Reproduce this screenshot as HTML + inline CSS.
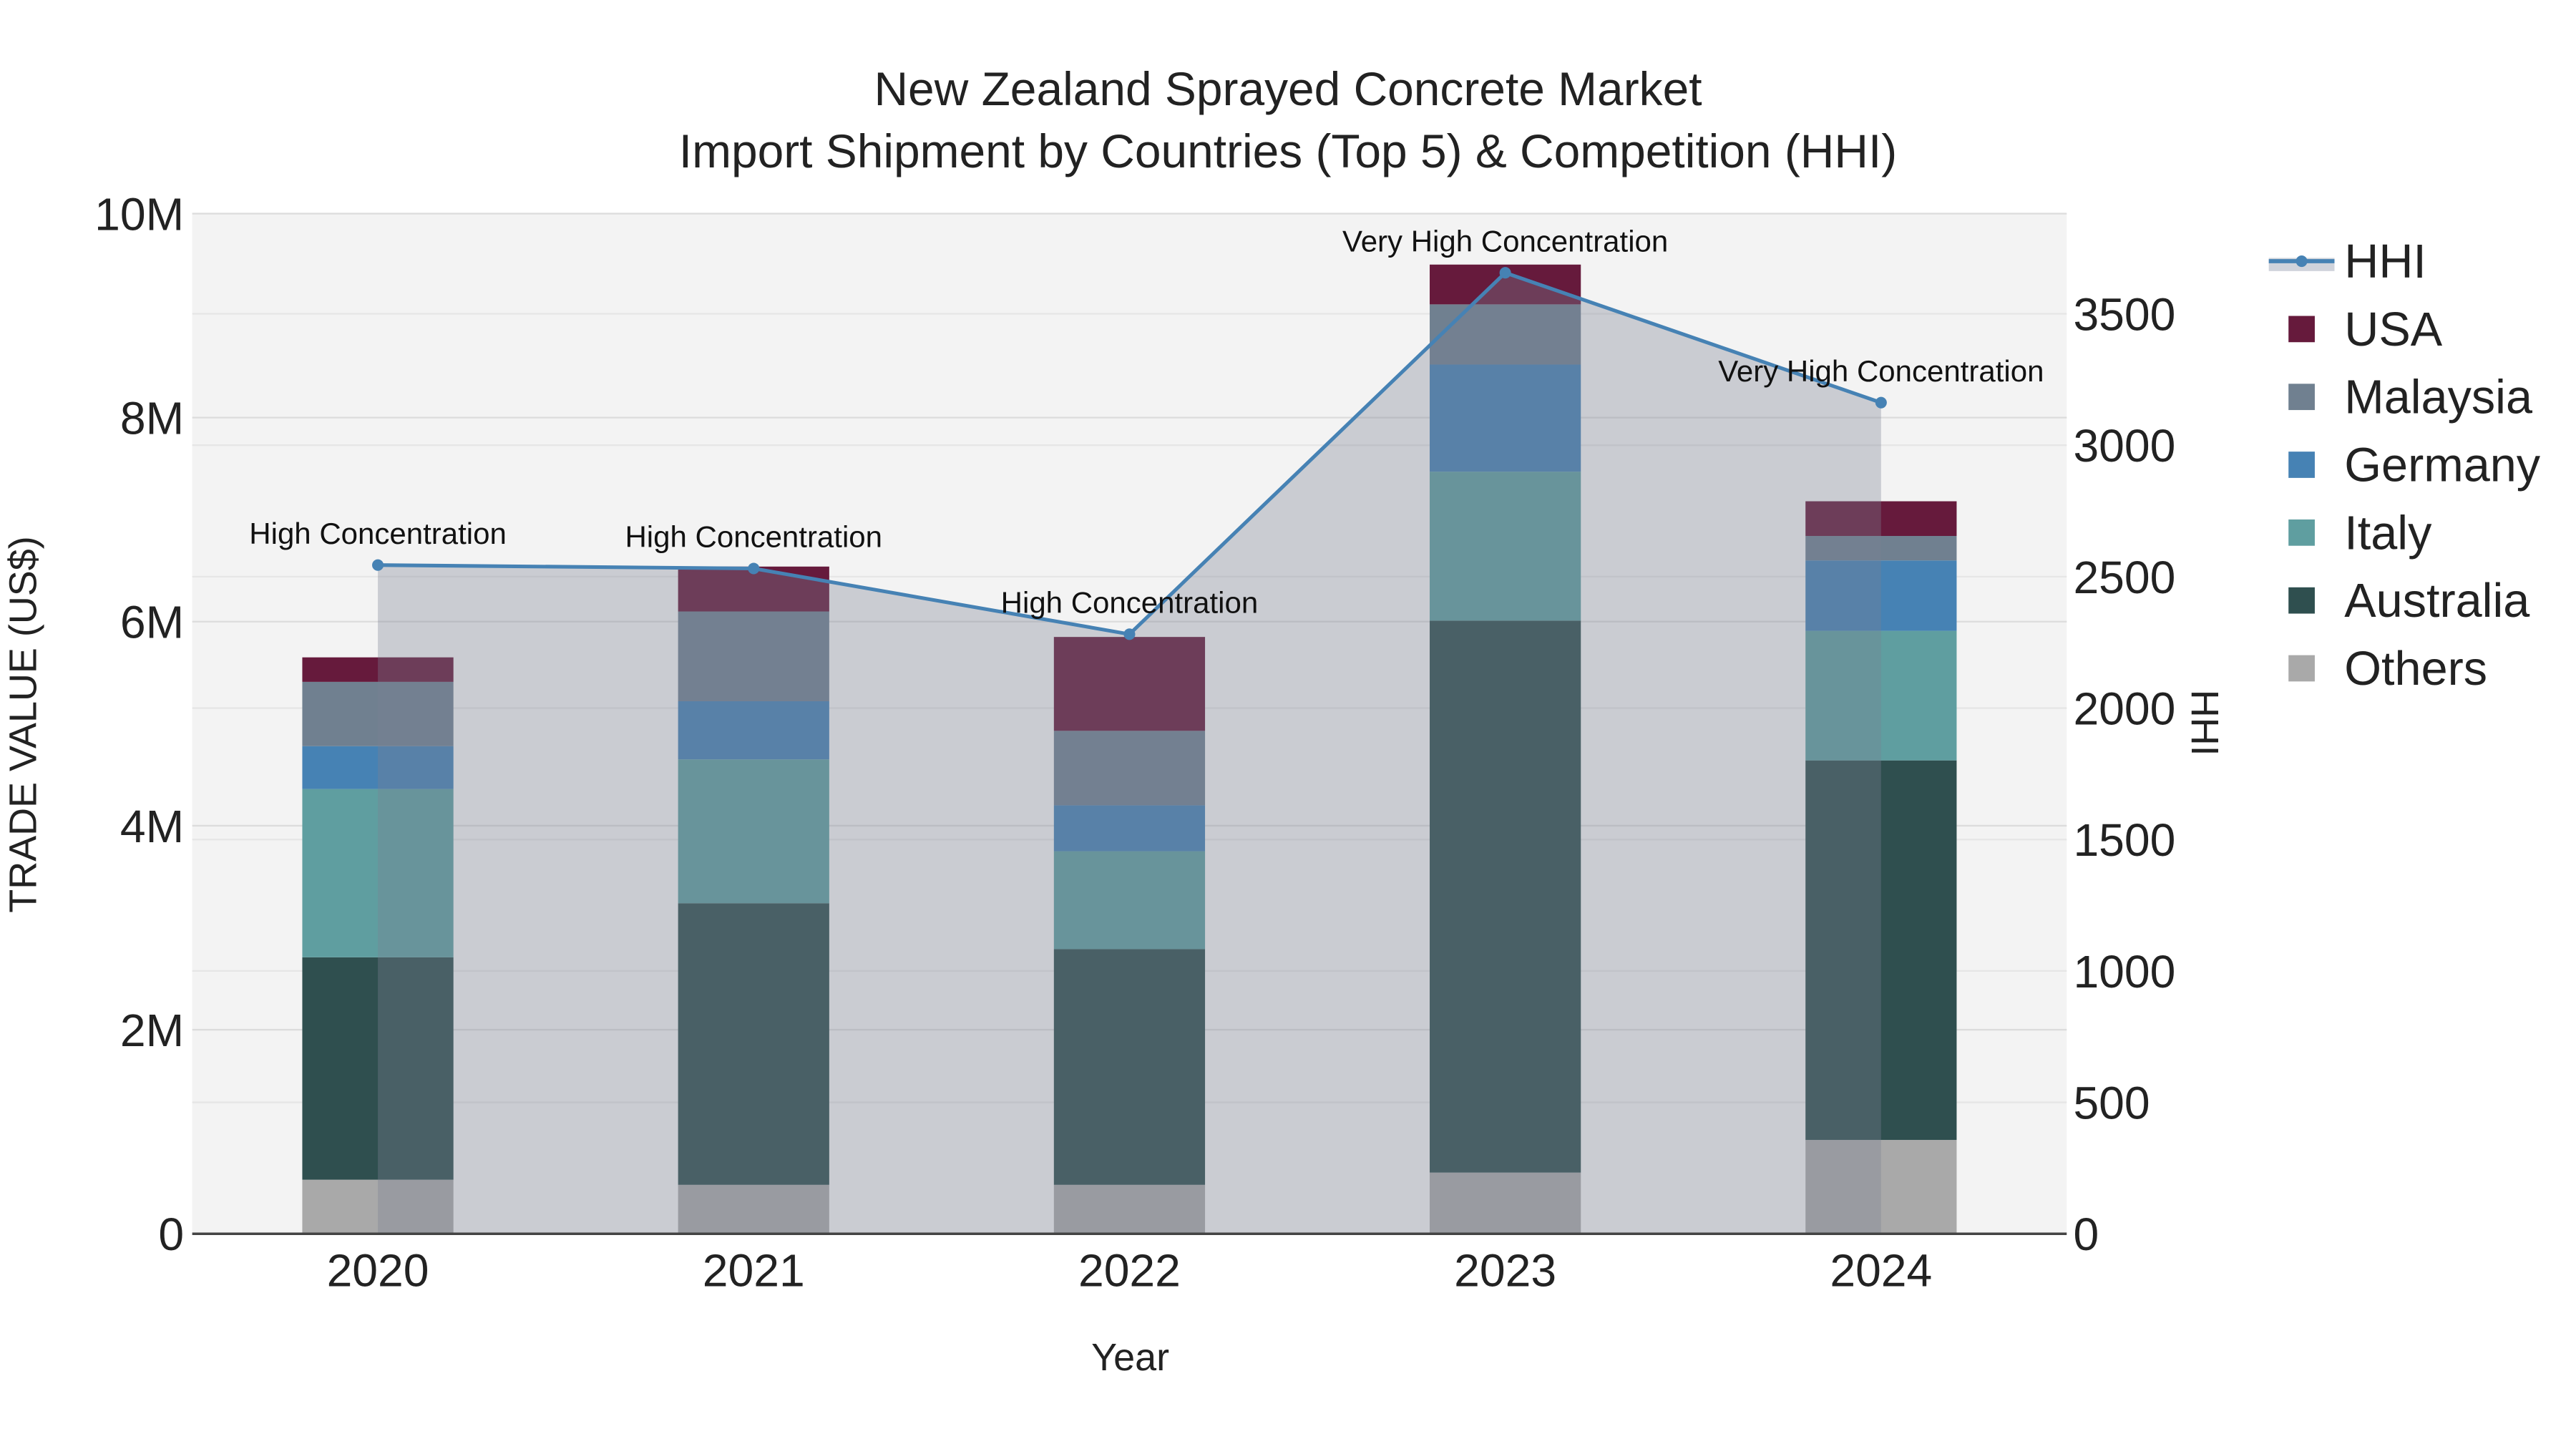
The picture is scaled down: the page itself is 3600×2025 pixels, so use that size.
<!DOCTYPE html>
<html><head><meta charset="utf-8"><style>html,body{margin:0;padding:0;background:#fff}svg{display:block;font-family:"Liberation Sans",Arial,sans-serif}</style></head>
<body>
<svg id="chart" width="3600" height="2025" viewBox="0 0 1568 882" preserveAspectRatio="none" xmlns="http://www.w3.org/2000/svg">
<rect x="0" y="0" width="1568" height="882" fill="#fff"/>
<text x="784" y="64" text-anchor="middle" font-size="28.7" fill="#222">New Zealand Sprayed Concrete Market</text>
<text x="784" y="102" text-anchor="middle" font-size="28.7" fill="#222">Import Shipment by Countries (Top 5) &amp; Competition (HHI)</text>
<rect x="117" y="130" width="1141" height="621" fill="#f3f3f3"/>
<g id="grid"></g><g id="bars"></g><g id="area"></g><g id="axes"></g><g id="legend"></g>
<text x="688" y="834" text-anchor="middle" font-size="23.5" fill="#222">Year</text>
<text transform="translate(22,441) rotate(-90)" text-anchor="middle" font-size="23.5" fill="#222">TRADE VALUE (US$)</text>
<text transform="translate(1334,440) rotate(90)" text-anchor="middle" font-size="23.5" fill="#222">HHI</text>
</svg>
<script>
const years=["2020","2021","2022","2023","2024"];
const seriesNames=["Others","Australia","Italy","Germany","Malaysia","USA"];
const others=[0.53,0.48,0.48,0.60,0.92];
const australia=[2.18,2.76,2.31,5.41,3.72];
const italy=[1.65,1.41,0.96,1.46,1.27];
const germany=[0.42,0.57,0.45,1.05,0.69];
const malaysia=[0.63,0.88,0.73,0.59,0.24];
const usa=[0.24,0.44,0.92,0.39,0.34];
const hhi=[2544,2531,2281,3656,3162];
const hhiLabels=["High Concentration","High Concentration","High Concentration","Very High Concentration","Very High Concentration"];
const yTicks=[0,2,4,6,8,10];
const y2Ticks=[0,500,1000,1500,2000,2500,3000,3500];
const colors=["#a9a9a9","#2f4f4f","#5f9ea0","#4682b4","#708090","#661a3c"];
const NS="http://www.w3.org/2000/svg";
const X0=117,X1=1258,Y0=751,Y1=130;
function xs(i){return 230+i*228.75;}
function ys(v){return Y0-(v/10)*(Y0-Y1);}
function y2s(v){return Y0-v*0.16;}
function mk(tag,attrs,parent){const e=document.createElementNS(NS,tag);for(const k in attrs)e.setAttribute(k,attrs[k]);parent.appendChild(e);return e;}
const grid=document.getElementById('grid'),axes=document.getElementById('axes'),bars=document.getElementById('bars'),area=document.getElementById('area'),legend=document.getElementById('legend');
yTicks.forEach(t=>{const y=ys(t);
 if(t>0){const g=mk('line',{x1:X0,x2:X1,y1:y,y2:y,stroke:'#dcdcdc','stroke-width':1},grid);}
 const l=mk('text',{x:112,y:y+10,'text-anchor':'end','font-size':28,fill:'#222'},axes);l.textContent=t===0?'0':t+'M';
 });
y2Ticks.forEach(t=>{const y=y2s(t);
 if(t>0){const g=mk('line',{x1:X0,x2:X1,y1:y,y2:y,stroke:'#e6e6e6','stroke-width':1},grid);}
 const l=mk('text',{x:1262,y:y+10,'font-size':28,fill:'#222'},axes);l.textContent=String(t);
 });
const series=[others,australia,italy,germany,malaysia,usa];
years.forEach((yr,i)=>{let base=0;
 series.forEach((s,k)=>{const top=base+s[i];
  const r=mk('rect',{x:xs(i)-46,width:92,y:ys(top),height:ys(base)-ys(top),fill:colors[k]},bars);
  base=top;});
 const t=mk('text',{x:xs(i),y:783,'text-anchor':'middle','font-size':28,fill:'#222'},axes);
 t.textContent=yr;});
let d='M'+xs(0)+','+Y0;hhi.forEach((v,i)=>{d+=' L'+xs(i)+','+y2s(v);});d+=' L'+xs(hhi.length-1)+','+Y0+' Z';
const a=mk('path',{d:d,fill:'rgba(122,130,146,0.34)'},area);
const ax=mk('line',{x1:X0,x2:X1,y1:Y0,y2:Y0,stroke:'#444','stroke-width':1.5},axes);
const pl=mk('polyline',{points:hhi.map((v,i)=>xs(i)+','+y2s(v)).join(' '),fill:'none',stroke:'#4682b4','stroke-width':2.2},area);

hhi.forEach((v,i)=>{const c=mk('circle',{cx:xs(i),cy:y2s(v),r:3.5,fill:'#4682b4'},area);
 const t=mk('text',{x:xs(i),y:y2s(v)-13,'text-anchor':'middle','font-size':18.3,fill:'#111'},area);t.textContent=hhiLabels[i];
 });
const lg=[["HHI",null],["USA",5],["Malaysia",4],["Germany",3],["Italy",2],["Australia",1],["Others",0]];
lg.forEach((e,j)=>{const y=159+j*41.3;
 if(e[1]===null){const r=mk('rect',{x:1381,y:y-2,width:40,height:8,fill:'rgba(160,168,184,0.5)'},legend);
  const l=mk('line',{x1:1381,x2:1421,y1:y,y2:y,stroke:'#4682b4','stroke-width':2.5},legend);
  const c=mk('circle',{cx:1401,cy:y,r:3.5,fill:'#4682b4'},legend);}
 else{const r=mk('rect',{x:1393,y:y-8,width:16,height:16,fill:colors[e[1]]},legend);}
 const t=mk('text',{x:1427,y:y+10,'font-size':29,fill:'#222'},legend);t.textContent=e[0];
 });
</script>
</body></html>
